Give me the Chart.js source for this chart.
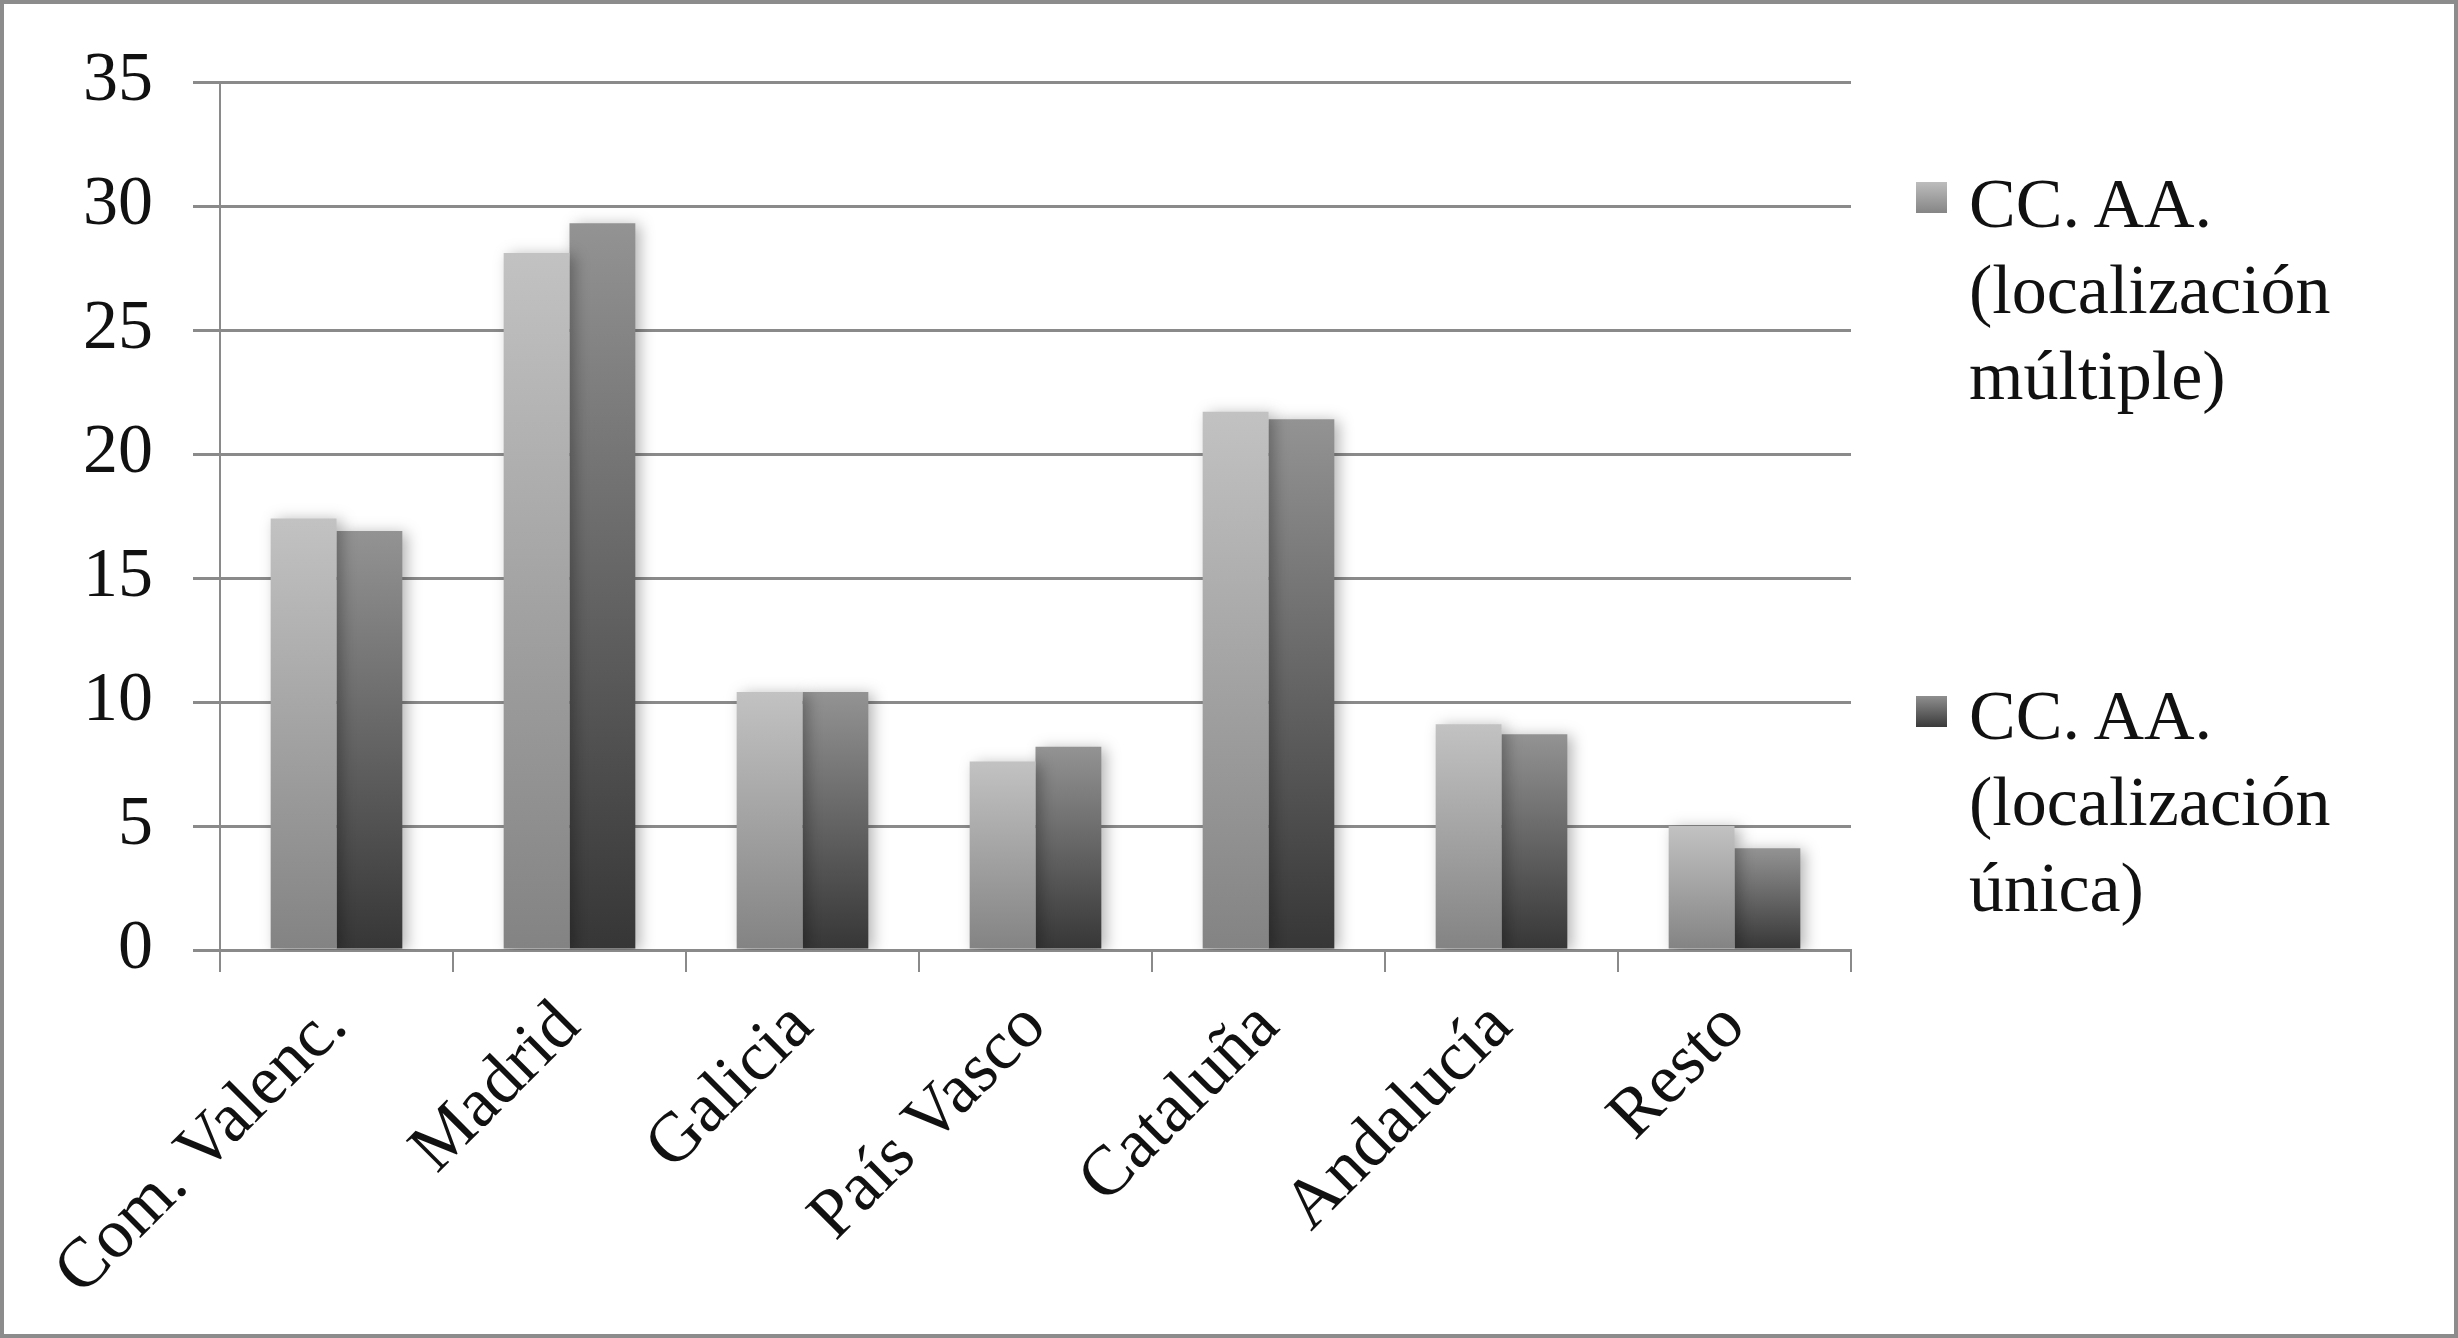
<!DOCTYPE html>
<html lang="es">
  <head>
    <meta charset="UTF-8" />
    <title>CC. AA.</title>
    <script src="https://cdn.jsdelivr.net/npm/chart.js@4.4.1/dist/chart.umd.min.js"></script>
    <style>
      html, body { margin: 0; padding: 0; background: #fff; }
      #wrap { position: relative; width: 2458px; height: 1338px; overflow: hidden; }
      #chart { position: absolute; left: 0; top: 0; }
      #frame { position: absolute; left: 0; top: 0; width: 2458px; height: 1338px; box-sizing: border-box;
               border: 4px solid #8c8c8c; pointer-events: none; }
      .item { position: absolute; left: 1916px; font-family: "Liberation Serif", "DejaVu Serif", serif;
              font-size: 70px; line-height: 86px; color: #111; }
      .swatch { position: absolute; left: 0; width: 31px; height: 31px; }
      .txt { position: absolute; left: 53px; white-space: nowrap; }
    </style>
  </head>
  <body>
    <div id="wrap">
      <canvas id="chart" width="2458" height="1338"></canvas>
      <!-- legend, laid out like the Excel one -->
      <div class="item" style="top:161px">
        <div class="swatch" style="top:21px; background:linear-gradient(#bdbdbd,#858585)"></div>
        <div class="txt" id="lab0"></div>
      </div>
      <div class="item" style="top:673px">
        <div class="swatch" style="top:23px; background:linear-gradient(#8f8f8f,#3a3a3a)"></div>
        <div class="txt" id="lab1"></div>
      </div>
      <div id="frame"></div>
    </div>

    <script>
      // data
      const categories = ['Com. Valenc.', 'Madrid', 'Galicia', 'País Vasco', 'Cataluña', 'Andalucía', 'Resto'];
      const multiple = [17.4, 28.1, 10.4, 7.6, 21.7, 9.1, 5.0];
      const unica = [16.9, 29.3, 10.4, 8.2, 21.4, 8.7, 4.1];
      const seriesNames = [
        ['CC. AA.', '(localización', 'múltiple)'],
        ['CC. AA.', '(localización', 'única)']
      ];
      const yTicks = [0, 5, 10, 15, 20, 25, 30, 35];

      document.getElementById('lab0').innerHTML = seriesNames[0].join('<br>');
      document.getElementById('lab1').innerHTML = seriesNames[1].join('<br>');

      // each bar gets its own top-to-bottom gradient
      function barGradient(top, bottom) {
        return function (c) {
          const chart = c.chart;
          if (!chart.chartArea || c.type !== 'data') return bottom;
          const y = chart.scales.y;
          const yTop = y.getPixelForValue(c.raw);
          const yBase = y.getPixelForValue(0);
          const g = chart.ctx.createLinearGradient(0, yTop, 0, yBase);
          g.addColorStop(0, top);
          g.addColorStop(1, bottom);
          return g;
        };
      }

      // soft drop shadow behind the bars
      const barShadow = {
        id: 'barShadow',
        beforeDatasetsDraw(chart) {
          const ctx = chart.ctx;
          ctx.save();
          ctx.shadowColor = 'rgba(0,0,0,0.3)';
          ctx.shadowBlur = 14;
          ctx.shadowOffsetX = 5;
          ctx.shadowOffsetY = 2;
        },
        afterDatasetsDraw(chart) {
          chart.ctx.restore();
        }
      };

      const font = { family: '"Liberation Serif", "DejaVu Serif", serif', size: 70 };

      const ctx = document.getElementById('chart').getContext('2d');
      new Chart(ctx, {
        type: 'bar',
        data: {
          labels: categories,
          datasets: [{
            label: seriesNames[0].join(' '),
            data: multiple,
            backgroundColor: barGradient('#c2c2c2', '#838383'),
            borderWidth: 0
          }, {
            label: seriesNames[1].join(' '),
            data: unica,
            backgroundColor: barGradient('#939393', '#363636'),
            borderWidth: 0
          }]
        },
        plugins: [barShadow],
        options: {
          responsive: false,
          animation: false,
          categoryPercentage: 0.565,
          barPercentage: 1,
          layout: { padding: { left: 0, right: 607, top: 81, bottom: 0 } },
          plugins: { legend: { display: false }, tooltip: { enabled: false } },
          scales: {
            x: {
              grid: { offset: true, drawOnChartArea: false, drawTicks: true, tickLength: 22, color: '#8a8a8a', lineWidth: 2 },
              border: { color: '#8a8a8a', width: 3 },
              ticks: { font: font, color: '#111', maxRotation: 45, minRotation: 45, padding: 14, autoSkip: false },
              afterFit(scale) { scale.height = 388; }
            },
            y: {
              min: 0,
              max: 35,
              afterBuildTicks(scale) { scale.ticks = yTicks.map(v => ({ value: v })); },
              grid: { color: '#8a8a8a', lineWidth: 3, tickLength: 27 },
              border: { color: '#8a8a8a', width: 2 },
              ticks: { font: font, color: '#111', padding: 40 },
              afterFit(scale) { scale.width = 220; }
            }
          }
        }
      });
    </script>
  </body>
</html>
